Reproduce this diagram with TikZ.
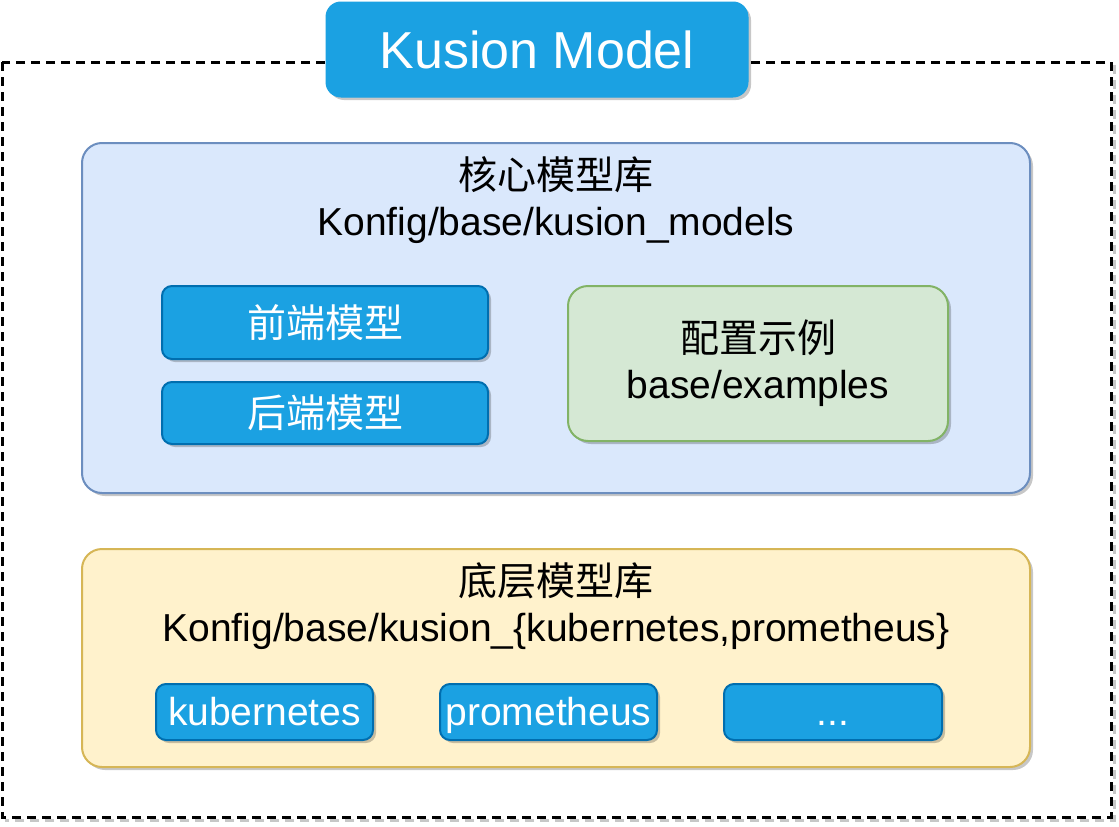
\documentclass[tikz,border=0pt]{standalone}
\usepackage{fontspec}
\setmainfont{Liberation Sans}
\newfontfamily\cjk{Noto Sans CJK SC}
\usetikzlibrary{shadows}
\definecolor{tblue}{HTML}{1BA1E2}
\definecolor{tbluedk}{HTML}{006EAF}
\definecolor{cfill}{HTML}{DAE8FC}
\definecolor{cdraw}{HTML}{6C8EBF}
\definecolor{gfill}{HTML}{D5E8D4}
\definecolor{gdraw}{HTML}{82B366}
\definecolor{yfill}{HTML}{FFF2CC}
\definecolor{ydraw}{HTML}{D6B656}
\tikzset{
  shd/.style={drop shadow={shadow xshift=3pt,shadow yshift=-3pt,fill=black,opacity=0.22}},
  container/.style={shd,rounded corners=20pt,line width=2pt,inner sep=0pt},
  bluebox/.style={shd,rounded corners=10pt,line width=2pt,fill=tblue,draw=tbluedk,inner sep=0pt,
     text=white,font=\fontsize{39}{46}\selectfont},
  smallbox/.style={bluebox,minimum height=56pt,text height=28pt,text depth=1pt},
  lbl/.style={align=center,font=\fontsize{39}{46}\selectfont,inner sep=0pt},
  outerdash/.style={line width=3pt,dash pattern=on 9pt off 6pt}
}
\begin{document}
\begin{tikzpicture}[x=1pt,y=-1pt]
\useasboundingbox (0,0) rectangle (1119,827);
\fill[white] (0,0) rectangle (1119,827);
% outer dashed frame with shadow on right and bottom
\draw[outerdash,black!22] (1114,65) -- (1114,820) -- (5,820);
\draw[outerdash,black] (2,62) rectangle (1111,817);
% title
\node[shd,rounded corners=15pt,fill=tblue,draw=tblue,line width=1pt,inner sep=0pt,
      minimum width=422pt,minimum height=95pt,text=white,font=\fontsize{52}{60}\selectfont]
      (title) at (537,49.5) {Kusion Model};
% core container
\node[container,fill=cfill,draw=cdraw,minimum width=948pt,minimum height=350pt] (core) at (556,318) {};
\node[lbl] (corelbl) at (556,200) {{\cjk 核心模型库}\\Konfig/base/kusion\_models};
\node[bluebox,minimum width=326pt,minimum height=73pt] (front) at (325,322.5) {\cjk 前端模型};
\node[bluebox,minimum width=326pt,minimum height=62pt] (back) at (325,413) {\cjk 后端模型};
\node[container,fill=gfill,draw=gdraw,minimum width=380pt,minimum height=155pt] (ex) at (758,363.5) {};
\node[lbl] (exlbl) at (758,363) {{\cjk 配置示例}\\base/examples};
% base container
\node[container,fill=yfill,draw=ydraw,minimum width=948pt,minimum height=218pt] (base) at (556,658) {};
\node[lbl] (baselbl) at (556,606) {{\cjk 底层模型库}\\Konfig/base/kusion\_\{kubernetes,prometheus\}};
\node[smallbox,minimum width=217pt] (k8s) at (264.5,712) {kubernetes};
\node[smallbox,minimum width=217pt] (prom) at (548.5,712) {prometheus};
\node[smallbox,minimum width=218pt] (more) at (833,712) {...};
\end{tikzpicture}
\end{document}
